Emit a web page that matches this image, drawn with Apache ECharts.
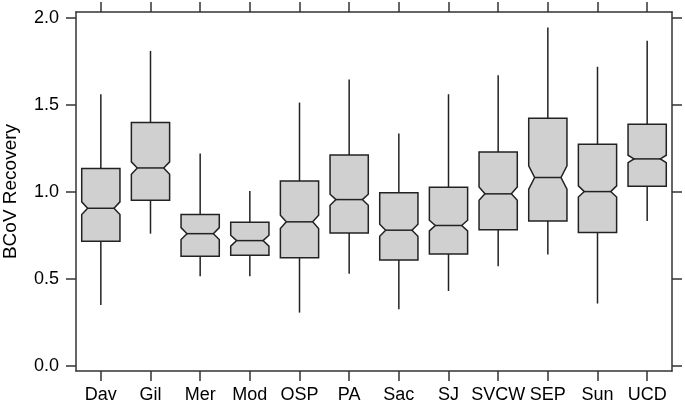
<!DOCTYPE html>
<html>
<head>
<meta charset="utf-8">
<script src="https://cdn.jsdelivr.net/npm/echarts@6/dist/echarts.min.js"></script>
<style>
    html, body { margin: 0; padding: 0; background: #fff; }
    #main { width: 685px; height: 403px; }
</style>
</head>
<body>
<div id="main"></div>
<script>
    // sites
    var categories = ['Dav', 'Gil', 'Mer', 'Mod', 'OSP', 'PA', 'Sac', 'SJ', 'SVCW', 'SEP', 'Sun', 'UCD'];

    // box statistics
    var whiskerLow  = [0.350, 0.760, 0.515, 0.515, 0.306, 0.530, 0.325, 0.430, 0.572, 0.640, 0.358, 0.833];
    var quartile1   = [0.716, 0.952, 0.630, 0.636, 0.622, 0.764, 0.609, 0.643, 0.783, 0.833, 0.766, 1.033];
    var notchLow    = [0.870, 1.102, 0.726, 0.688, 0.789, 0.923, 0.745, 0.776, 0.952, 1.016, 0.971, 1.169];
    var median      = [0.906, 1.138, 0.760, 0.720, 0.828, 0.956, 0.780, 0.807, 0.989, 1.083, 1.002, 1.190];
    var notchHigh   = [0.943, 1.173, 0.795, 0.751, 0.866, 0.987, 0.814, 0.837, 1.029, 1.150, 1.035, 1.211];
    var quartile3   = [1.135, 1.399, 0.870, 0.826, 1.063, 1.213, 0.996, 1.027, 1.230, 1.424, 1.274, 1.390];
    var whiskerHigh = [1.562, 1.811, 1.221, 1.006, 1.514, 1.647, 1.336, 1.562, 1.671, 1.946, 1.720, 1.869];

    var yTicks = [0, 0.5, 1.0, 1.5, 2.0];

    var font = '"Liberation Sans", Arial, Helvetica, sans-serif';
    var lineColor = '#333';

    var boxData = [];
    for (var i = 0; i < categories.length; i++) {
        boxData.push([i, whiskerLow[i], quartile1[i], notchLow[i], median[i], notchHigh[i], quartile3[i], whiskerHigh[i]]);
    }

    function renderNotchedBox(params, api) {
        var idx = api.value(0);
        var x = api.coord([idx, 0])[0];
        var band = api.size([1, 0])[0];
        var hw = band * 0.385;
        var inset = hw * 2 * 0.155;
        var yLo = api.coord([idx, api.value(1)])[1];
        var yQ1 = api.coord([idx, api.value(2)])[1];
        var yNL = api.coord([idx, api.value(3)])[1];
        var yMed = api.coord([idx, api.value(4)])[1];
        var yNH = api.coord([idx, api.value(5)])[1];
        var yQ3 = api.coord([idx, api.value(6)])[1];
        var yHi = api.coord([idx, api.value(7)])[1];

        var stroke = {stroke: '#222', lineWidth: 1.5};
        return {
            type: 'group',
            children: [
                {type: 'line', shape: {x1: x, y1: yQ3, x2: x, y2: yHi}, style: stroke},
                {type: 'line', shape: {x1: x, y1: yQ1, x2: x, y2: yLo}, style: stroke},
                {
                    type: 'polygon',
                    shape: {
                        points: [
                            [x - hw, yQ1], [x - hw, yNL], [x - hw + inset, yMed], [x - hw, yNH], [x - hw, yQ3],
                            [x + hw, yQ3], [x + hw, yNH], [x + hw - inset, yMed], [x + hw, yNL], [x + hw, yQ1]
                        ]
                    },
                    style: {fill: '#d0d0d0', stroke: '#222', lineWidth: 1.5, lineJoin: 'miter'}
                },
                {type: 'line', shape: {x1: x - hw + inset, y1: yMed, x2: x + hw - inset, y2: yMed}, style: stroke}
            ]
        };
    }

    var chart = echarts.init(document.getElementById('main'));

    var option = {
        animation: false,
        textStyle: {fontFamily: font},
        grid: {left: 76, right: 13, top: 12, bottom: 32, containLabel: false, outerBoundsMode: 'none'},
        xAxis: [{
            type: 'category',
            data: categories,
            position: 'bottom',
            axisLine: {onZero: false, lineStyle: {color: lineColor, width: 1.5}},
            axisTick: {show: true, inside: false, length: 10, alignWithLabel: true, lineStyle: {color: lineColor, width: 1.5}},
            axisLabel: {color: '#000', fontSize: 18, fontFamily: font, margin: 15, interval: 0},
            splitLine: {show: false}
        }, {
            type: 'category',
            data: categories,
            position: 'top',
            axisLine: {onZero: false, lineStyle: {color: lineColor, width: 1.5}},
            axisTick: {show: true, inside: false, length: 10, alignWithLabel: true, interval: 0, lineStyle: {color: lineColor, width: 1.5}},
            axisLabel: {show: false, interval: 0},
            splitLine: {show: false}
        }],
        yAxis: [{
            type: 'value',
            min: -0.03,
            max: 2.035,
            position: 'left',
            name: 'BCoV Recovery',
            nameLocation: 'middle',
            nameRotate: 90,
            nameGap: 56,
            nameTextStyle: {color: '#000', fontSize: 19, fontFamily: font},
            axisLine: {show: true, onZero: false, lineStyle: {color: lineColor, width: 1.5}},
            axisTick: {show: true, inside: false, length: 10, customValues: yTicks, lineStyle: {color: lineColor, width: 1.5}},
            axisLabel: {
                color: '#000', fontSize: 18, fontFamily: font, margin: 17,
                customValues: yTicks,
                formatter: function (v) { return v.toFixed(1); }
            },
            splitLine: {show: false}
        }, {
            type: 'value',
            min: -0.03,
            max: 2.035,
            position: 'right',
            axisLine: {show: true, onZero: false, lineStyle: {color: lineColor, width: 1.5}},
            axisTick: {show: true, inside: false, length: 10, customValues: yTicks, lineStyle: {color: lineColor, width: 1.5}},
            axisLabel: {show: false},
            splitLine: {show: false}
        }],
        series: [{
            type: 'custom',
            name: 'BCoV',
            xAxisIndex: 0,
            yAxisIndex: 0,
            renderItem: renderNotchedBox,
            encode: {x: 0, y: [1, 2, 3, 4, 5, 6, 7]},
            data: boxData
        }]
    };

    chart.setOption(option);
</script>
</body>
</html>
